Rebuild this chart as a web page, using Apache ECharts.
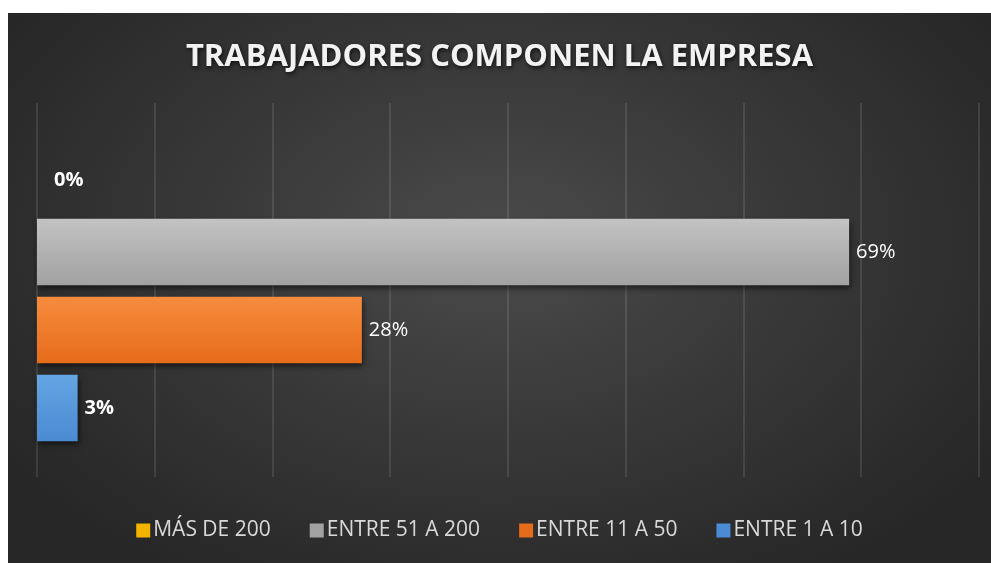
<!DOCTYPE html>
<html>
<head>
<meta charset="utf-8">
<script src="https://cdn.jsdelivr.net/npm/echarts@6/dist/echarts.min.js"></script>
<style>
  html, body { margin: 0; padding: 0; background: #fff; }
  #chart {
    position: absolute;
    left: 8px;
    top: 13px;
    width: 983px;
    height: 550px;
    background: radial-gradient(ellipse 60% 70% at 50% 42%, #4b4b4b 0%, #3a3a3a 45%, #272727 100%);
  }
</style>
</head>
<body>
<div id="chart"></div>
<script>
// categories, bottom to top like the picture
const categories = ['ENTRE 1 A 10', 'ENTRE 11 A 50', 'ENTRE 51 A 200', 'MÁS DE 200']
// legend order
const seriesNames = ['MÁS DE 200', 'ENTRE 51 A 200', 'ENTRE 11 A 50', 'ENTRE 1 A 10']
const shares = {
  'MÁS DE 200': 0,
  'ENTRE 51 A 200': 0.6897,
  'ENTRE 11 A 50': 0.2759,
  'ENTRE 1 A 10': 0.0345,
}
const boldLabels = ['MÁS DE 200', 'ENTRE 1 A 10']
const xTicks = [0, 0.1, 0.2, 0.3, 0.4, 0.5, 0.6, 0.7, 0.8]

const colors = {
  'MÁS DE 200': ['#ffcb1f', '#f2b400'],
  'ENTRE 51 A 200': ['#c3c3c3', '#a2a2a2'],
  'ENTRE 11 A 50': ['#f78c3e', '#e56c1a'],
  'ENTRE 1 A 10': ['#64a5e3', '#4a8bd3'],
}

const chart = echarts.init(document.getElementById('chart'))

const series = seriesNames.map(name => {
  const data = categories.map(c => (c === name ? shares[name] : '-'))
  return {
    name,
    type: 'bar',
    stack: 'all',
    xAxisIndex: 1,
    yAxisIndex: 1,
    barWidth: '85%',
    data,
    itemStyle: {
      color: new echarts.graphic.LinearGradient(0, 0, 0, 1, [
        { offset: 0, color: colors[name][0] },
        { offset: 1, color: colors[name][1] },
      ]),
      shadowColor: 'rgba(0, 0, 0, 0.6)',
      shadowBlur: 6,
      shadowOffsetY: 3,
      shadowOffsetX: 1,
    },
    label: {
      show: true,
      position: 'right',
      distance: shares[name] === 0 ? 17 : 7,
      offset: shares[name] === 0 ? [0, 6] : [0, 0],
      color: '#ffffff',
      fontFamily: 'Open Sans',
      fontSize: 20,
      fontWeight: boldLabels.includes(name) ? 'bold' : 'normal',
      formatter: p => Math.round(p.value * 100) + '%',
    },
  }
})

const option = {
  backgroundColor: 'transparent',
  title: {
    text: 'TRABAJADORES COMPONEN LA EMPRESA',
    left: 'center',
    top: 24,
    textStyle: {
      color: '#f2f2f2',
      fontFamily: 'Open Sans',
      fontSize: 31,
      fontWeight: 'bold',
      textShadowColor: 'rgba(0, 0, 0, 0.7)',
      textShadowBlur: 4,
      textShadowOffsetX: 1,
      textShadowOffsetY: 2,
    },
  },
  legend: {
    data: seriesNames.map(name => ({ name, itemStyle: { color: colors[name][1] } })),
    bottom: 17,
    left: 'center',
    icon: 'rect',
    itemWidth: 14,
    itemHeight: 14,
    itemGap: 39,
    textStyle: {
      color: '#d9d9d9',
      fontFamily: 'Open Sans',
      fontSize: 21,
      padding: [0, 0, 0, -2],
    },
  },
  grid: [
    // gridlines only
    { left: 29, right: 12, top: 90, bottom: 86 },
    // bars
    { left: 29, right: 12, top: 122, bottom: 116 },
  ],
  xAxis: [
    {
      gridIndex: 0,
      type: 'value',
      min: xTicks[0],
      max: xTicks[xTicks.length - 1],
      interval: 0.1,
      axisLine: { show: false },
      axisTick: { show: false },
      axisLabel: { show: false },
      splitLine: {
        show: true,
        lineStyle: { color: 'rgba(255, 255, 255, 0.1)', width: 2 },
      },
    },
    {
      gridIndex: 1,
      type: 'value',
      min: xTicks[0],
      max: xTicks[xTicks.length - 1],
      interval: 0.1,
      show: false,
      splitLine: { show: false },
    },
  ],
  yAxis: [
    {
      gridIndex: 0,
      type: 'category',
      data: categories,
      show: false,
    },
    {
      gridIndex: 1,
      type: 'category',
      data: categories,
      show: false,
    },
  ],
  series,
}

chart.setOption(option)
</script>
</body>
</html>
